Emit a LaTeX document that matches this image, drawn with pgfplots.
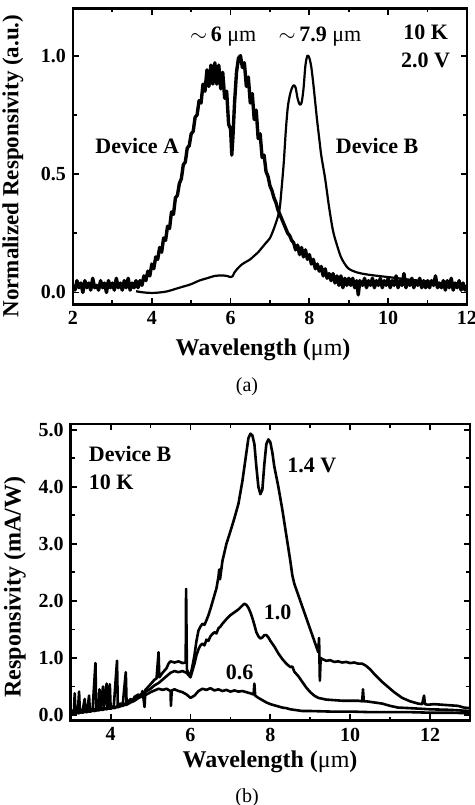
\documentclass[border=0pt]{standalone}
\usepackage{pgfplots}
\pgfplotsset{compat=1.18}
\usepackage{fontspec}
\setmainfont{Liberation Serif}
\pgfplotsset{
  myax/.style={
    scale only axis,
    axis line style={line width=1.3pt},
    every tick/.style={black, line width=0.9pt},
    tick align=inside,
    major tick length=3.2pt,
    minor tick length=2pt,
    minor x tick num=1, minor y tick num=1,
    /pgf/number format/assume math mode=true,
    tick label style={font=\bfseries\fontsize{10}{11}\selectfont},
    yticklabel style={/pgf/number format/fixed, /pgf/number format/precision=1, /pgf/number format/fixed zerofill},
    clip=true,
  },
  crv/.style={black, line width=1.3pt, mark=none, line join=round},
}
\newcommand{\um}{{\mdseries μm}}
\begin{document}
\begin{tikzpicture}
\useasboundingbox (0,0) rectangle (237.5pt,-402.5pt);
% ---------------- Panel (a)
\begin{axis}[myax, at={(36.5pt,-4.15pt)}, anchor=north west, width=197pt, height=148pt,
  xmin=2, xmax=12, ymin=-0.05, ymax=1.2, xtick={2,4,6,8,10,12}, ytick={0,0.5,1.0}]
\addplot[crv, line width=1.7pt] table {
2.00 0.03
2.05 0.01
2.10 0.05
2.15 0.02
2.20 0.04
2.25 0.00
2.30 0.05
2.35 0.02
2.40 0.04
2.45 0.01
2.50 0.06
2.55 0.02
2.60 0.03
2.65 0.01
2.70 0.05
2.75 0.02
2.80 0.04
2.85 0.00
2.90 0.05
2.95 0.02
3.00 0.04
3.05 0.01
3.10 0.06
3.15 0.02
3.20 0.04
3.25 0.01
3.30 0.05
3.35 0.02
3.40 0.06
3.45 0.01
3.50 0.04
3.55 0.02
3.60 0.05
3.65 0.02
3.70 0.05
3.75 0.03
3.80 0.07
3.85 0.05
3.90 0.09
3.95 0.07
4.00 0.12
4.05 0.10
4.10 0.15
4.15 0.14
4.20 0.19
4.25 0.17
4.30 0.23
4.35 0.22
4.40 0.28
4.45 0.27
4.50 0.34
4.55 0.33
4.60 0.40
4.65 0.41
4.70 0.46
4.75 0.48
4.80 0.54
4.85 0.55
4.90 0.61
4.95 0.62
5.00 0.67
5.05 0.68
5.10 0.74
5.15 0.75
5.20 0.81
5.25 0.80
5.30 0.88
5.35 0.85
5.40 0.94
5.45 0.87
5.50 0.96
5.55 0.88
5.60 0.97
5.65 0.88
5.70 0.96
5.75 0.86
5.80 0.93
5.85 0.82
5.90 0.85
5.95 0.71
6.00 0.69
6.03 0.58
6.06 0.66
6.10 0.80
6.15 0.93
6.20 0.99
6.25 1.00
6.30 0.95
6.35 0.97
6.40 0.87
6.45 0.91
6.50 0.80
6.55 0.84
6.60 0.73
6.65 0.77
6.70 0.65
6.75 0.67
6.80 0.57
6.85 0.58
6.90 0.51
6.95 0.49
7.00 0.45
7.05 0.43
7.10 0.40
7.15 0.38
7.20 0.35
7.25 0.33
7.30 0.31
7.35 0.29
7.40 0.27
7.45 0.25
7.50 0.24
7.55 0.22
7.60 0.21
7.65 0.18
7.70 0.20
7.75 0.16
7.80 0.19
7.85 0.15
7.90 0.18
7.95 0.14
8.00 0.16
8.05 0.12
8.10 0.14
8.15 0.10
8.20 0.12
8.25 0.09
8.30 0.11
8.35 0.07
8.40 0.10
8.45 0.06
8.50 0.08
8.55 0.05
8.60 0.08
8.65 0.04
8.70 0.07
8.75 0.03
8.80 0.07
8.85 0.02
8.90 0.06
8.95 0.03
9.00 0.06
9.05 0.03
9.10 0.06
9.15 0.02
9.20 0.05
9.24 -0.01
9.28 0.05
9.35 0.03
9.40 0.06
9.45 0.02
9.50 0.05
9.55 0.03
9.60 0.06
9.65 0.02
9.70 0.05
9.75 0.03
9.80 0.06
9.85 0.02
9.90 0.05
9.95 0.03
10.00 0.06
10.05 0.02
10.10 0.05
10.15 0.03
10.20 0.07
10.25 0.02
10.30 0.05
10.35 0.03
10.40 0.08
10.45 0.02
10.50 0.05
10.55 0.03
10.60 0.06
10.65 0.02
10.70 0.05
10.75 0.03
10.80 0.06
10.85 0.02
10.90 0.05
10.95 0.02
11.00 0.05
11.05 0.02
11.10 0.05
11.15 0.03
11.20 0.07
11.25 0.02
11.30 0.04
11.35 0.02
11.40 0.05
11.45 0.01
11.50 0.05
11.55 0.02
11.60 0.06
11.65 0.01
11.70 0.04
11.75 0.02
11.80 0.05
11.85 0.01
11.90 0.04
11.95 0.01
12.00 0.03
};
\addplot[crv, line width=1.1pt, smooth] table {
3.60 0.005
3.80 0.000
4.00 -0.002
4.20 0.000
4.40 0.005
4.60 0.015
4.80 0.025
5.00 0.035
5.20 0.050
5.40 0.060
5.60 0.070
5.80 0.072
5.90 0.070
6.00 0.065
6.05 0.068
6.10 0.085
6.20 0.105
6.30 0.120
6.40 0.130
6.50 0.140
6.60 0.155
6.70 0.170
6.80 0.190
6.90 0.210
7.00 0.230
7.10 0.270
7.20 0.320
7.25 0.360
7.30 0.450
7.35 0.550
7.40 0.680
7.45 0.780
7.50 0.830
7.55 0.860
7.60 0.875
7.65 0.865
7.70 0.820
7.75 0.795
7.80 0.800
7.85 0.860
7.90 0.960
7.95 1.000
8.00 0.990
8.05 0.950
8.10 0.880
8.15 0.800
8.20 0.720
8.25 0.650
8.30 0.580
8.40 0.480
8.50 0.360
8.60 0.260
8.70 0.200
8.80 0.150
8.90 0.120
9.00 0.100
9.20 0.085
9.50 0.075
10.00 0.065
10.50 0.055
11.00 0.045
11.50 0.035
12.00 0.020
};
\node[font=\bfseries\fontsize{11}{12}\selectfont] at (axis cs:5.81,1.08) {$\sim$\,6 \um};
\node[font=\bfseries\fontsize{11}{12}\selectfont] at (axis cs:8.27,1.08) {$\sim$\,7.9 \um};
\node[font=\bfseries\fontsize{11}{12}\selectfont] at (axis cs:10.95,1.10) {10 K};
\node[font=\bfseries\fontsize{11}{12}\selectfont] at (axis cs:10.95,0.98) {2.0 V};
\node[font=\bfseries\fontsize{11}{12}\selectfont] at (axis cs:3.63,0.62) {Device A};
\node[font=\bfseries\fontsize{11}{12}\selectfont] at (axis cs:9.72,0.62) {Device B};
\end{axis}
\node[rotate=90, font=\bfseries\fontsize{11.5}{12}\selectfont] at (6.5pt,-83pt) {Normalized Responsivity (a.u.)};
\node[font=\bfseries\fontsize{12}{13}\selectfont] at (131.5pt,-175pt) {Wavelength (\um)};
\node[font=\fontsize{10}{12}\selectfont] at (123.5pt,-193.5pt) {(a)};
% ---------------- Panel (b)
\begin{axis}[myax, at={(35.35pt,-212pt)}, anchor=north west, width=199.65pt, height=148.35pt,
  xmin=3, xmax=13, ymin=-0.1, ymax=5.1, xtick={4,6,8,10,12}, ytick={0,1,2,3,4,5}]
\addplot[crv] table {
3.00 0.02
3.05 0.08
3.08 0.02
3.10 0.38
3.12 0.03
3.18 0.07
3.21 0.41
3.23 0.04
3.30 0.09
3.35 0.28
3.37 0.05
3.42 0.10
3.46 0.34
3.48 0.06
3.55 0.11
3.62 0.91
3.64 0.08
3.70 0.12
3.72 0.45
3.74 0.09
3.81 0.50
3.83 0.10
3.90 0.55
3.92 0.11
3.98 0.54
4.00 0.12
4.08 0.16
4.16 0.95
4.18 0.14
4.25 0.20
4.30 0.16
4.38 0.75
4.40 0.20
4.50 0.28
4.55 0.24
4.60 0.32
4.70 0.36
4.75 0.32
4.80 0.42
4.85 0.14
4.87 0.44
4.95 0.50
5.00 0.54
5.10 0.62
5.15 0.64
5.20 1.10
5.22 0.66
5.30 0.74
5.40 0.82
5.45 0.90
5.50 0.94
5.60 0.92
5.70 0.94
5.80 0.91
5.88 0.92
5.89 2.21
5.91 0.80
5.95 0.72
6.00 0.70
6.05 0.86
6.10 1.05
6.15 1.30
6.20 1.48
6.25 1.55
6.30 1.60
6.35 1.58
6.40 1.66
6.45 1.75
6.50 1.86
6.60 2.10
6.65 2.22
6.70 2.42
6.72 2.55
6.74 2.38
6.80 2.70
6.90 3.00
7.00 3.22
7.10 3.45
7.20 3.70
7.30 4.10
7.40 4.60
7.45 4.85
7.50 4.93
7.55 4.90
7.60 4.75
7.65 4.35
7.70 4.00
7.75 3.87
7.80 3.95
7.85 4.40
7.90 4.75
7.95 4.83
8.00 4.78
8.05 4.60
8.10 4.35
8.20 4.00
8.30 3.60
8.40 3.15
8.50 2.70
8.55 2.45
8.60 2.30
8.70 2.10
8.80 1.90
8.90 1.70
9.00 1.50
9.10 1.30
9.20 1.10
9.22 1.35
9.24 0.60
9.26 1.00
9.30 0.98
9.40 0.95
9.50 0.96
9.60 0.93
9.70 0.94
9.80 0.92
9.90 0.93
10.00 0.91
10.10 0.92
10.20 0.90
10.30 0.90
10.40 0.86
10.50 0.80
10.60 0.72
10.70 0.65
10.80 0.58
10.90 0.52
11.00 0.46
11.10 0.40
11.20 0.35
11.30 0.30
11.40 0.27
11.50 0.24
11.60 0.22
11.70 0.20
11.80 0.19
11.85 0.34
11.87 0.19
11.95 0.18
12.10 0.19
12.30 0.18
12.50 0.17
12.70 0.16
12.85 0.13
13.00 0.12
};
\addplot[crv] table {
3.00 0.04
3.10 0.02
3.20 0.06
3.30 0.04
3.40 0.08
3.50 0.06
3.60 0.10
3.70 0.08
3.80 0.12
3.90 0.10
4.00 0.14
4.10 0.12
4.20 0.17
4.30 0.16
4.40 0.22
4.50 0.24
4.60 0.29
4.70 0.32
4.80 0.38
4.90 0.42
5.00 0.46
5.10 0.52
5.20 0.56
5.30 0.62
5.40 0.68
5.50 0.74
5.60 0.77
5.70 0.75
5.80 0.77
5.90 0.74
5.95 0.70
6.00 0.66
6.05 0.78
6.10 0.90
6.15 1.05
6.20 1.15
6.25 1.22
6.30 1.25
6.35 1.22
6.40 1.32
6.45 1.30
6.50 1.38
6.55 1.42
6.60 1.45
6.65 1.43
6.70 1.52
6.75 1.55
6.80 1.60
6.90 1.68
7.00 1.75
7.10 1.80
7.20 1.85
7.30 1.92
7.35 1.95
7.40 1.93
7.45 1.88
7.50 1.80
7.55 1.70
7.60 1.58
7.65 1.45
7.70 1.38
7.75 1.34
7.80 1.36
7.85 1.40
7.90 1.40
7.95 1.36
8.00 1.30
8.10 1.20
8.20 1.08
8.30 0.98
8.40 0.90
8.50 0.84
8.55 0.85
8.60 0.76
8.70 0.68
8.80 0.58
8.90 0.48
9.00 0.40
9.10 0.34
9.20 0.30
9.40 0.27
9.60 0.26
9.80 0.25
10.00 0.25
10.20 0.25
10.30 0.24
10.32 0.45
10.34 0.24
10.40 0.24
10.60 0.22
10.80 0.20
11.00 0.16
11.20 0.13
11.50 0.12
12.00 0.10
12.50 0.09
13.00 0.07
};
\addplot[crv] table {
3.00 0.02
3.10 0.05
3.20 0.03
3.30 0.07
3.40 0.05
3.50 0.08
3.60 0.07
3.70 0.10
3.80 0.09
3.90 0.12
4.00 0.11
4.10 0.14
4.20 0.14
4.30 0.17
4.40 0.18
4.50 0.22
4.60 0.25
4.70 0.30
4.80 0.33
4.90 0.36
5.00 0.40
5.10 0.43
5.20 0.46
5.30 0.44
5.40 0.46
5.50 0.42
5.51 0.16
5.53 0.43
5.60 0.45
5.70 0.42
5.80 0.40
5.90 0.36
6.00 0.30
6.10 0.34
6.20 0.42
6.30 0.46
6.40 0.44
6.50 0.47
6.60 0.43
6.70 0.45
6.80 0.42
6.90 0.44
7.00 0.41
7.10 0.43
7.20 0.41
7.30 0.42
7.40 0.40
7.50 0.38
7.58 0.36
7.60 0.55
7.62 0.34
7.70 0.30
7.80 0.26
7.90 0.22
8.00 0.19
8.10 0.17
8.20 0.15
8.30 0.13
8.40 0.12
8.50 0.10
8.60 0.09
8.70 0.08
8.80 0.07
9.00 0.07
9.50 0.06
10.00 0.06
10.50 0.05
11.00 0.05
11.50 0.05
12.00 0.04
12.50 0.04
13.00 0.03
};
\node[font=\bfseries\fontsize{11}{12}\selectfont, anchor=west] at (axis cs:3.28,4.58) {Device B};
\node[font=\bfseries\fontsize{11}{12}\selectfont, anchor=west] at (axis cs:3.28,4.08) {10 K};
\node[font=\bfseries\fontsize{11}{12}\selectfont] at (axis cs:9.04,4.37) {1.4 V};
\node[font=\bfseries\fontsize{11}{12}\selectfont] at (axis cs:8.18,1.80) {1.0};
\node[font=\bfseries\fontsize{11}{12}\selectfont] at (axis cs:7.23,0.75) {0.6};
\end{axis}
\node[rotate=90, font=\bfseries\fontsize{12}{13}\selectfont] at (7.5pt,-293.5pt) {Responsivity (mA/W)};
\node[font=\bfseries\fontsize{12}{13}\selectfont] at (135pt,-380.8pt) {Wavelength (\um)};
\node[font=\fontsize{10}{12}\selectfont] at (123.5pt,-399pt) {(b)};
\end{tikzpicture}
\end{document}
